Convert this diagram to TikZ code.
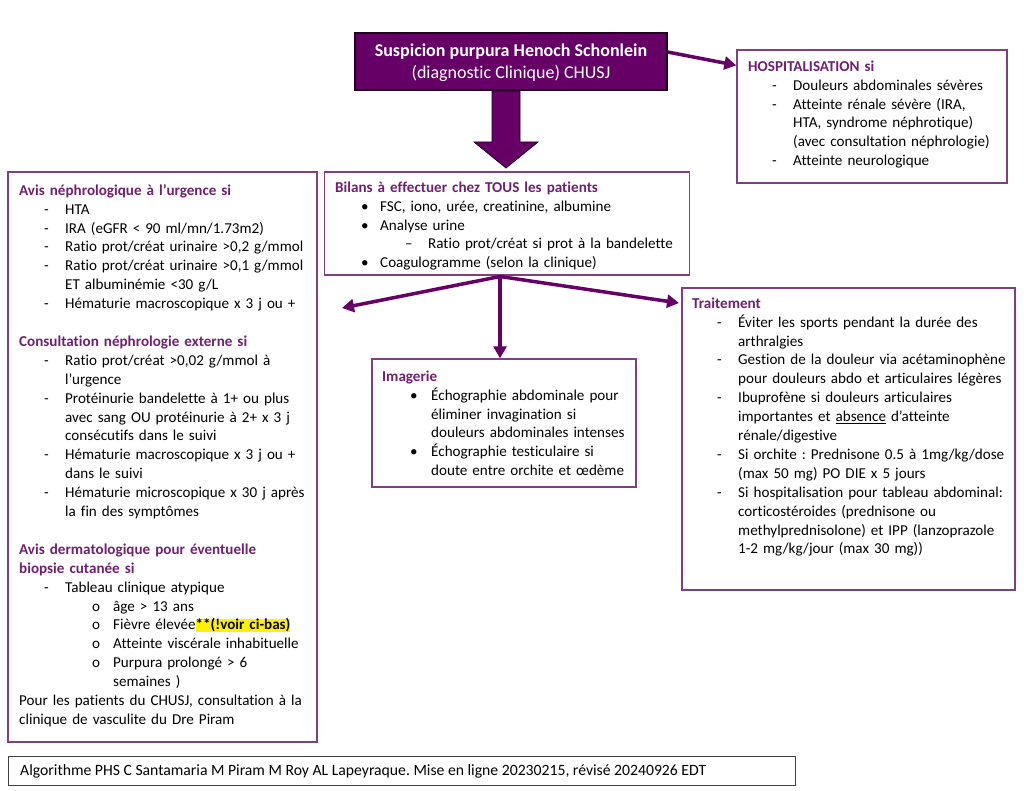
\documentclass[tikz,border=0pt]{standalone}
\usepackage{fontspec}
\setmainfont{Carlito}[Ligatures=NoCommon]
\usetikzlibrary{arrows.meta}
\definecolor{pp}{RGB}{102,0,102}
\definecolor{ttl}{RGB}{112,32,112}
\definecolor{bd}{RGB}{128,64,128}
\newcommand\Ttl[1]{\strut\textcolor{ttl}{\textbf{#1}}}
\newcommand\Row[4]{\strut\hspace*{#1}\makebox[\dimexpr#3-#1\relax][l]{#2}#4}
\setlength{\fboxsep}{0pt}
\frenchspacing
\begin{document}
\begin{tikzpicture}[x=1pt,y=-1pt,
  box/.style={draw=bd, line width=1.3pt, inner sep=0pt, rectangle},
  txt/.style={anchor=north west, inner sep=0pt, text width=#1, align=left, font=\fontsize{15.1}{18.9}\selectfont\frenchspacing},
  conn/.style={draw=pp, line width=3.5pt, -{Triangle[length=12pt,width=13pt]}}]
\useasboundingbox[fill=white] (0,0) rectangle (1024,791);

% boxes
\node[box, draw=black!70!pp, fill=pp, minimum width=312pt, minimum height=57pt] (top) at (511,61.5) {};
\node[box, minimum width=270pt, minimum height=133pt] (hosp) at (872,116.5) {};
\node[box, minimum width=309pt, minimum height=570pt] (left) at (162.5,457) {};
\node[box, minimum width=365pt, minimum height=103pt] (bil) at (507,223.5) {};
\node[box, minimum width=264pt, minimum height=128pt] (imag) at (504,423) {};
\node[box, minimum width=333pt, minimum height=302pt] (trait) at (848.5,439) {};
\node[box, draw=black!75, line width=1pt, minimum width=787pt, minimum height=29pt] (foot) at (401.5,770.5) {};

% top box text
\node[inner sep=0pt, align=center, text=white, font=\fontsize{18}{22}\selectfont] (toptxt) at (511,63)
  {\textbf{Suspicion purpura Henoch Schonlein}\\(diagnostic Clinique) CHUSJ};

% block arrow
\fill[pp, draw=black!70!pp, line width=0.8pt] (492,91) -- (520,91) -- (520,142) -- (538,142) -- (506,168) -- (474,142) -- (492,142) -- cycle;

% connectors
\draw[conn] ([yshift=9.5pt]top.east) -- ([yshift=-16pt]hosp.north west);
\coordinate (bsrc) at (500,276.5);
\coordinate (lend) at (342,308);
\coordinate (rend) at (679,303);
\draw[conn] (bsrc) -- (lend);
\draw[conn] (bsrc) -- (rend);
\draw[conn] (bsrc) -- (bsrc |- imag.north);

% hospitalisation
\node[txt=400pt] (hosptxt) at (748,57.8) {%
\Ttl{HOSPITALISATION si}\\
\Row{24pt}{-}{45pt}{Douleurs abdominales sévères}\\
\Row{24pt}{-}{45pt}{Atteinte rénale sévère (IRA,}\\
\Row{0pt}{}{45pt}{HTA, syndrome néphrotique)}\\
\Row{0pt}{}{45pt}{(avec consultation néphrologie)}\\
\Row{24pt}{-}{45pt}{Atteinte neurologique}};

% left box
\node[txt=400pt] (lefttxt) at (19,181.8) {%
\Ttl{Avis néphrologique à l’urgence si}\\
\Row{25pt}{-}{46pt}{HTA}\\
\Row{25pt}{-}{46pt}{IRA (eGFR < 90 ml/mn/1.73m2)}\\
\Row{25pt}{-}{46pt}{Ratio prot/créat urinaire >0,2 g/mmol}\\
\Row{25pt}{-}{46pt}{Ratio prot/créat urinaire >0,1 g/mmol}\\
\Row{0pt}{}{46pt}{ET albuminémie <30 g/L}\\
\Row{25pt}{-}{46pt}{Hématurie macroscopique x 3 j ou +}\\
\strut\\
\Ttl{Consultation néphrologie externe si}\\
\Row{25pt}{-}{46pt}{Ratio prot/créat >0,02 g/mmol à}\\
\Row{0pt}{}{46pt}{l’urgence}\\
\Row{25pt}{-}{46pt}{Protéinurie bandelette à 1+ ou plus}\\
\Row{0pt}{}{46pt}{avec sang OU protéinurie à 2+ x 3 j}\\
\Row{0pt}{}{46pt}{consécutifs dans le suivi}\\
\Row{25pt}{-}{46pt}{Hématurie macroscopique x 3 j ou +}\\
\Row{0pt}{}{46pt}{dans le suivi}\\
\Row{25pt}{-}{46pt}{Hématurie microscopique x 30 j après}\\
\Row{0pt}{}{46pt}{la fin des symptômes}\\
\strut\\
\Ttl{Avis dermatologique pour éventuelle}\\
\Ttl{biopsie cutanée si}\\
\Row{25pt}{-}{46pt}{Tableau clinique atypique}\\
\Row{73pt}{o}{94pt}{âge > 13 ans}\\
\Row{73pt}{o}{94pt}{Fièvre élevée\colorbox{yellow}{\vphantom{(}\textbf{**(!voir ci-bas)}}}\\
\Row{73pt}{o}{94pt}{Atteinte viscérale inhabituelle}\\
\Row{73pt}{o}{94pt}{Purpura prolongé > 6}\\
\Row{0pt}{}{94pt}{semaines )}\\
\strut Pour les patients du CHUSJ, consultation à la\\
\strut clinique de vasculite du Dre Piram};

% bilans
\node[txt=400pt] (biltxt) at (335,178.8) {%
\Ttl{Bilans à effectuer chez TOUS les patients}\\
\Row{26pt}{•}{45pt}{FSC, iono, urée, creatinine, albumine}\\
\Row{26pt}{•}{45pt}{Analyse urine}\\
\Row{70pt}{–}{93pt}{Ratio prot/créat si prot à la bandelette}\\
\Row{26pt}{•}{45pt}{Coagulogramme (selon la clinique)}};

% imagerie
\node[txt=400pt] (imagtxt) at (382,367.8) {%
\Ttl{Imagerie}\\
\Row{28pt}{•}{49pt}{Échographie abdominale pour}\\
\Row{0pt}{}{49pt}{éliminer invagination si}\\
\Row{0pt}{}{49pt}{douleurs abdominales intenses}\\
\Row{28pt}{•}{49pt}{Échographie testiculaire si}\\
\Row{0pt}{}{49pt}{doute entre orchite et œdème}};

% traitement
\node[txt=400pt] (traittxt) at (692,294.8) {%
\Ttl{Traitement}\\
\Row{25pt}{-}{46pt}{Éviter les sports pendant la durée des}\\
\Row{0pt}{}{46pt}{arthralgies}\\
\Row{25pt}{-}{46pt}{Gestion de la douleur via acétaminophène}\\
\Row{0pt}{}{46pt}{pour douleurs abdo et articulaires légères}\\
\Row{25pt}{-}{46pt}{Ibuprofène si douleurs articulaires}\\
\Row{0pt}{}{46pt}{importantes et \underline{absence} d’atteinte}\\
\Row{0pt}{}{46pt}{rénale/digestive}\\
\Row{25pt}{-}{46pt}{Si orchite : Prednisone 0.5 à 1mg/kg/dose}\\
\Row{0pt}{}{46pt}{(max 50 mg) PO DIE x 5 jours}\\
\Row{25pt}{-}{46pt}{Si hospitalisation pour tableau abdominal:}\\
\Row{0pt}{}{46pt}{corticostéroides (prednisone ou}\\
\Row{0pt}{}{46pt}{methylprednisolone) et IPP (lanzoprazole}\\
\Row{0pt}{}{46pt}{1-2 mg/kg/jour (max 30 mg))}};

% footer
\node[anchor=west, inner sep=0pt, font=\fontsize{15.7}{18}\selectfont\frenchspacing] (foottxt) at (20,771)
  {Algorithme PHS C Santamaria M Piram M Roy AL Lapeyraque. Mise en ligne 20230215, révisé 20240926 EDT};
\end{tikzpicture}
\end{document}
